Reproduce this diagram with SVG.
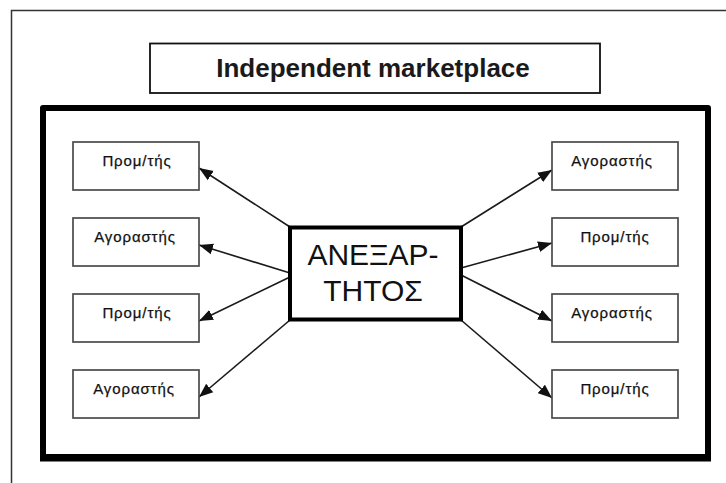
<svg xmlns="http://www.w3.org/2000/svg" width="726" height="483" viewBox="0 0 726 483">
  <defs>
    <marker id="head" markerUnits="userSpaceOnUse" markerWidth="15" markerHeight="12" refX="14" refY="6" orient="auto">
      <path d="M0,0.5 L14,6 L0,11.5 Z" fill="#111"/>
    </marker>
    <style>
      .frame { fill: none; stroke: #333; stroke-width: 1.5; }
      .title-box { fill: #fff; stroke: #111; stroke-width: 1.8; }
      .market { fill: none; stroke: #000; stroke-width: 6; stroke-linejoin: round; }
      .hub { fill: #fff; stroke: #000; stroke-width: 4; }
      .party { fill: #fff; stroke: #4a4a4a; stroke-width: 1.7; }
      .title { font-family: "Liberation Sans", Arial, sans-serif; font-weight: bold; font-size: 26px; fill: #1a1a1a; text-anchor: middle; }
      .hub-text { font-family: "Liberation Sans", Arial, sans-serif; font-size: 30px; fill: #111; text-anchor: middle; }
      .label { font-family: "Liberation Sans", Arial, sans-serif; font-size: 15px; letter-spacing: 0.9px; fill: #111; stroke: #111; stroke-width: 0.25; text-anchor: middle; }
      .link { stroke: #1a1a1a; stroke-width: 1.6; fill: none; marker-end: url(#head); }
    </style>
  </defs>

  <rect width="726" height="483" fill="#fff"/>

  <!-- page frame, continuing past the right and bottom edges -->
  <rect class="frame" x="11.5" y="10.5" width="740" height="500"/>

  <!-- title -->
  <g id="title">
    <rect class="title-box" x="150" y="43.5" width="450" height="49.5"/>
    <text class="title" x="373" y="77">Independent marketplace</text>
  </g>

  <!-- marketplace boundary -->
  <g id="marketplace">
    <rect class="market" x="43" y="108" width="665" height="349"/>
    <line x1="40" y1="458.5" x2="711" y2="458.5" stroke="#000" stroke-width="6"/>
  </g>

  <!-- connectors -->
  <g id="connectors">
    <line class="link" x1="290" y1="227" x2="199" y2="168"/>
    <line class="link" x1="290" y1="273" x2="199" y2="245"/>
    <line class="link" x1="290" y1="277" x2="199" y2="321"/>
    <line class="link" x1="290" y1="320" x2="199" y2="397"/>
    <line class="link" x1="461" y1="227" x2="552" y2="170"/>
    <line class="link" x1="461" y1="268" x2="552" y2="243"/>
    <line class="link" x1="461" y1="275" x2="552" y2="321"/>
    <line class="link" x1="461" y1="320" x2="552" y2="398"/>
  </g>

  <!-- central intermediary -->
  <g id="hub">
    <rect class="hub" x="290" y="227.5" width="171" height="92"/>
    <text class="hub-text" x="373" y="265">ΑΝΕΞΑΡ-</text>
    <text class="hub-text" x="373" y="301">ΤΗΤΟΣ</text>
  </g>

  <!-- left column -->
  <g id="left-1">
    <rect class="party" x="73" y="142" width="126" height="48"/>
    <text class="label" x="137" y="166">Προμ/τής</text>
  </g>
  <g id="left-2">
    <rect class="party" x="73" y="218" width="126" height="48"/>
    <text class="label" x="135" y="242">Αγοραστής</text>
  </g>
  <g id="left-3">
    <rect class="party" x="73" y="294" width="126" height="48"/>
    <text class="label" x="137" y="318">Προμ/τής</text>
  </g>
  <g id="left-4">
    <rect class="party" x="73" y="370" width="126" height="48"/>
    <text class="label" x="134" y="394">Αγοραστής</text>
  </g>

  <!-- right column -->
  <g id="right-1">
    <rect class="party" x="552" y="142" width="126" height="48"/>
    <text class="label" x="612" y="166">Αγοραστής</text>
  </g>
  <g id="right-2">
    <rect class="party" x="552" y="218" width="126" height="48"/>
    <text class="label" x="615" y="242">Προμ/τής</text>
  </g>
  <g id="right-3">
    <rect class="party" x="552" y="294" width="126" height="48"/>
    <text class="label" x="612" y="318">Αγοραστής</text>
  </g>
  <g id="right-4">
    <rect class="party" x="552" y="370" width="126" height="48"/>
    <text class="label" x="615" y="394">Προμ/τής</text>
  </g>
</svg>
